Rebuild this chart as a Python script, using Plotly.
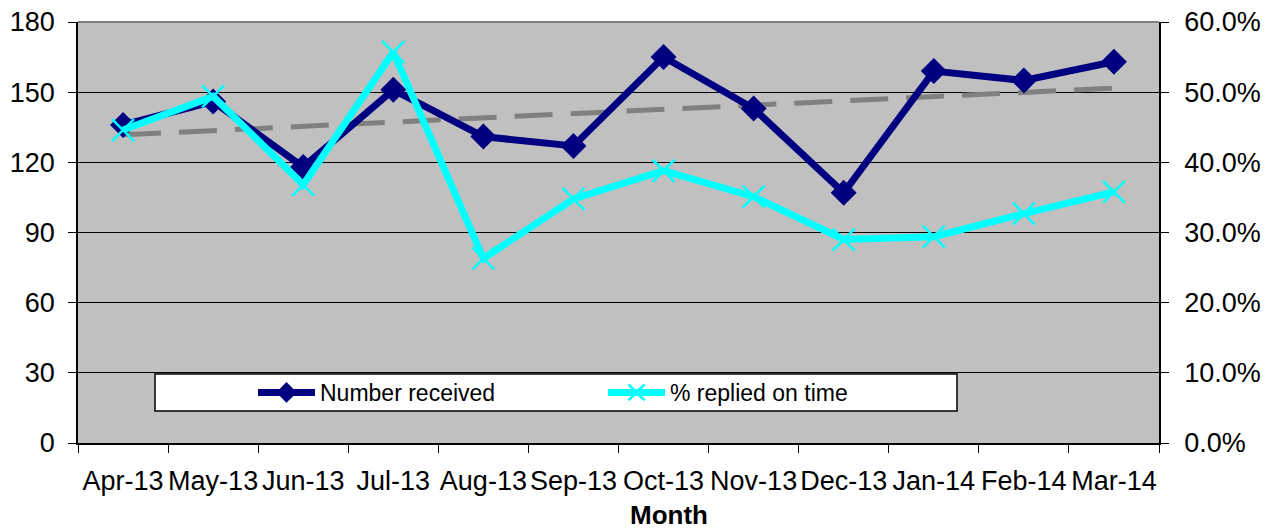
import numpy as np
import plotly.graph_objects as go

months = ["Apr-13", "May-13", "Jun-13", "Jul-13", "Aug-13", "Sep-13",
          "Oct-13", "Nov-13", "Dec-13", "Jan-14", "Feb-14", "Mar-14"]
number_received = [136, 146, 118, 151, 131, 127, 165, 143, 107, 159, 155, 163]
pct_replied = [0.446, 0.494, 0.368, 0.557, 0.263, 0.348, 0.388, 0.351, 0.290, 0.294, 0.327, 0.358]

# Linear trendline of "Number received" (as in the Excel chart)
idx = np.arange(len(months))
slope, intercept = np.polyfit(idx, number_received, 1)
trend = (slope * idx + intercept).tolist()

FONT = "Liberation Sans, Arial, sans-serif"
NAVY = "#000080"
CYAN = "#00FFFF"

fig = go.Figure()

fig.add_trace(go.Scatter(
    x=months, y=trend, mode="lines", showlegend=False, hoverinfo="skip",
    line=dict(color="#808080", width=5, dash="38px,18px"),
))
fig.add_trace(go.Scatter(
    x=months, y=number_received, mode="lines+markers", name="Number received",
    line=dict(color=NAVY, width=7),
    marker=dict(symbol="diamond", size=20, color=NAVY),
))
fig.add_trace(go.Scatter(
    x=months, y=pct_replied, mode="lines+markers", name="% replied on time",
    yaxis="y2",
    line=dict(color=CYAN, width=7),
    marker=dict(symbol="x-thin", size=22, color=CYAN, line=dict(color=CYAN, width=2.5)),
))

L, R, T, B = 78, 116, 22, 87
W, H = 1275, 530
pw, ph = W - L - R, H - T - B

def px_x(p):
    return (p - L) / pw

def px_y(p):
    return (H - B - p) / ph

fig.update_layout(
    width=W, height=H,
    margin=dict(l=L, r=R, t=T, b=B, autoexpand=False),
    paper_bgcolor="white",
    plot_bgcolor="#C0C0C0",
    font=dict(family=FONT, size=27, color="black"),
    xaxis=dict(
        type="category", tickson="boundaries", ticks="outside", ticklen=8,
        tickcolor="black", showgrid=False, showline=True, linecolor="black",
        linewidth=1.5, tickfont=dict(size=27), ticklabelstandoff=13,
        range=[-0.5, 11.5], tickangle=0, automargin=False,
    ),
    yaxis=dict(
        range=[0, 180], dtick=30, tick0=0, ticks="outside", ticklen=8,
        tickcolor="black", showgrid=True, gridcolor="black", gridwidth=1,
        showline=True, linecolor="black", linewidth=1.5, zeroline=False,
        tickfont=dict(size=27), ticklabelstandoff=8, automargin=False,
    ),
    yaxis2=dict(
        overlaying="y", side="right", range=[0, 0.6], dtick=0.1, tick0=0,
        tickformat=".1%", ticks="outside", ticklen=8, tickcolor="black",
        showgrid=False, showline=True, linecolor="black", linewidth=1.5,
        zeroline=False, tickfont=dict(size=27), ticklabelstandoff=10,
        automargin=False,
    ),
    legend=dict(
        orientation="h", x=px_x(253), xanchor="left", y=px_y(392.5), yanchor="middle",
        bgcolor="rgba(0,0,0,0)", borderwidth=0, font=dict(size=23),
        entrywidth=278, entrywidthmode="pixels", itemwidth=57,
        traceorder="normal",
    ),
    shapes=[
        dict(type="rect", xref="paper", yref="paper",
             x0=px_x(155), x1=px_x(957), y0=px_y(411), y1=px_y(374),
             fillcolor="white", line=dict(color="black", width=1.5), layer="between"),
        dict(type="line", xref="paper", yref="paper", x0=0, x1=1, y0=1, y1=1,
             line=dict(color="#808080", width=2), layer="above"),
    ],
    annotations=[
        dict(text="<b>Month</b>", xref="paper", yref="paper",
             x=px_x(669), y=px_y(515), xanchor="center", yanchor="middle",
             showarrow=False, font=dict(size=26, family=FONT)),
    ],
)

fig.write_html("out.html", config={"displayModeBar": False},
               post_script="document.body.style.margin='0';")
